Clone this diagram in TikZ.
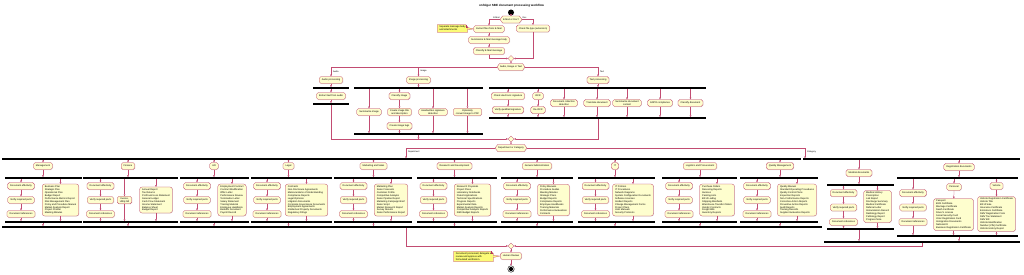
\documentclass[tikz,border=0pt]{standalone}
\usepackage{fontspec}
\setmainfont{Liberation Sans}
\usetikzlibrary{arrows.meta,shapes.geometric,shapes.symbols,shadows,calc}
\definecolor{pred}{HTML}{A80036}
\definecolor{pyel}{HTML}{FEFECE}
\definecolor{nyel}{HTML}{FBFB77}
\newcommand\fs{\fontsize{2.4}{2.95}\selectfont}
\newcommand\fl{\fontsize{2.2}{2.6}\selectfont}
\tikzset{
 act/.style={rectangle, rounded corners=1.8pt, draw=pred!80, fill=pyel, line width=0.25pt, font=\fs, inner xsep=2.6pt, inner ysep=1.2pt, minimum height=7pt, align=center, drop shadow={shadow xshift=0.5pt, shadow yshift=-0.5pt, opacity=0.2}},
 lst/.style={act, align=left, inner ysep=1.6pt, rounded corners=2.5pt},
 bar/.style={rectangle, fill=black, draw=none, inner sep=0pt, minimum height=1.6pt},
 dec/.style={signal, signal to=west and east, signal pointer angle=110, draw=pred!80, fill=pyel, line width=0.25pt, font=\fs, inner xsep=0.5pt, inner ysep=1pt, minimum height=7pt, drop shadow={shadow xshift=0.5pt, shadow yshift=-0.5pt, opacity=0.2}},
 mrg/.style={diamond, draw=pred!80, fill=pyel, line width=0.25pt, minimum size=6pt, inner sep=0pt},
 arr/.style={draw=pred!70, line width=0.25pt, -{Triangle[length=1.7pt,width=1.7pt]}},
 lbl/.style={font=\fl, anchor=west, inner sep=0.3pt},
 notebox/.style={font=\fs, align=left, inner xsep=2pt, inner ysep=1.2pt},
 noteline/.style={draw=pred!80, fill=nyel, line width=0.25pt},
}
\newcommand\notefold[1]{%
 \filldraw[noteline] (#1.north west) -- ([xshift=-2pt]#1.north east) -- ([yshift=-2pt]#1.north east) -- (#1.south east) -- (#1.south west) -- cycle;
 \draw[noteline, fill=none] ([xshift=-2pt]#1.north east) -- ([xshift=-2pt,yshift=-2pt]#1.north east) -- ([yshift=-2pt]#1.north east);
}
% id, title, boxx, barleft, barright, docx, listx, listtext
\newcommand\deptcol[8]{%
 \pgfmathsetmacro\dcC{(#4+#5)/2}%
 \pgfmathsetmacro\dcW{#5-#4}%
 \node[act] (#1t) at (#3,166) {#2};
 \draw[arr] (#1t |- dtop.south) -- (#1t);
 \node[bar, minimum width=\dcW pt] (#1f) at (\dcC,178) {};
 \node[bar, minimum width=\dcW pt] (#1j) at (\dcC,222) {};
 \draw[arr] (#1t) -- (#1t |- #1f.north);
 \node[act] (#1d1) at (#6,186) {Document effectivity};
 \node[act] (#1d2) at (#6,200) {Verify required parts};
 \node[act] (#1d3) at (#6,214) {Document references};
 \node[lst] (#1l) at (#7,200) {#8};
 \draw[arr] (#1d1 |- #1f.south) -- (#1d1);
 \draw[arr] (#1d1) -- (#1d2);
 \draw[arr] (#1d2) -- (#1d3);
 \draw[arr] (#1d3) -- (#1d3 |- #1j.north);
 \draw[arr] (#1l |- #1f.south) -- (#1l);
 \draw[arr] (#1l) -- (#1l |- #1j.north);
 \draw[arr] (#1j.south -| #1t) -- (#1t |- djoin.north);
}
\begin{document}
\begin{tikzpicture}[x=1pt,y=-1pt]
\useasboundingbox[fill=white] (0,0) rectangle (1024,274);

\node[font=\bfseries\fontsize{3}{3.6}\selectfont] (title) at (511.5,5.5) {onfolger SBE document processing workflow};
\node[circle, fill=black, minimum size=6pt, inner sep=0pt] (start) at (511,12.5) {};

\node[dec] (dec1) at (511,19.5) {E-Mail or Doc?};
\draw[arr] (start) -- (dec1);
\node[lbl, anchor=east] at (500,17.3) {E-Mail};
\node[lbl] at (522,17.3) {Doc};

\node[act] (em1) at (489,29) {Extract files from E-Mail};
\node[act] (em2) at (489,40) {Summarize E-Mail message body};
\node[act] (em3) at (489,51) {Classify E-Mail message};
\node[act] (chk) at (533,28.5) {Check file type (extension)};
\draw[arr] (dec1.west) -| (em1);
\draw[arr] (dec1.east) -| (chk);
\draw[arr] (em1) -- (em2);
\draw[arr] (em2) -- (em3);

\node[notebox] (n1) at (452.5,28.5) {Separate message body\\and attachments};
\notefold{n1}
\filldraw[noteline] ([yshift=1pt]n1.east) -- (em1.west) -- ([yshift=-1pt]n1.east);
\node[notebox] at (n1) {Separate message body\\and attachments};

\node[mrg] (m1) at (511,58.5) {};
\draw[arr] (em3) |- (m1);
\draw[arr] (chk) |- (m1);

\node[dec] (dec2) at (511,67) {Audio, Image or Text};
\draw[arr] (m1) -- (dec2);

% audio
\node[act] (aud) at (331,80) {Audio processing};
\draw[arr] (dec2.west) -| (aud);
\node[lbl] at (332.5,71.3) {Audio};
\node[bar, minimum width=36pt] (fa1) at (331,88) {};
\node[act] (audt) at (331,96) {Extract text from audio};
\node[bar, minimum width=36pt] (fa2) at (331,104) {};
\draw[arr] (aud) -- (fa1.north);
\draw[arr] (fa1.south) -- (audt);
\draw[arr] (audt) -- (fa2.north);

% image
\node[act] (img) at (418.5,80) {Image processing};
\draw[arr] (dec2.west) -| (img);
\node[lbl] at (420,71.3) {Image};
\node[bar, minimum width=129pt] (fi1) at (418.5,88) {};
\node[bar, minimum width=129pt] (fi2) at (418.5,134) {};
\draw[arr] (img) -- (img |- fi1.north);
\node[act] (simg) at (369,112) {Summarize image};
\node[act] (cimg) at (399.5,96) {Classify image};
\node[act] (timg) at (399.5,112) {Create image title\\and description};
\node[act] (gimg) at (399.5,126) {Create image tags};
\node[act] (hand) at (433,112) {Handwritten signature\\detection};
\node[act] (conv) at (467.5,112) {Optionally\\convert image to PDF};
\draw[arr] (simg |- fi1.south) -- (simg);
\draw[arr] (simg) -- (simg |- fi2.north);
\draw[arr] (cimg |- fi1.south) -- (cimg);
\draw[arr] (cimg) -- (timg);
\draw[arr] (timg) -- (gimg);
\draw[arr] (gimg) -- (gimg |- fi2.north);
\draw[arr] (hand |- fi1.south) -- (hand);
\draw[arr] (hand) -- (hand |- fi2.north);
\draw[arr] (conv |- fi1.south) -- (conv);
\draw[arr] (conv) -- (conv |- fi2.north);

% text
\node[act] (txt) at (598,80) {Text processing};
\draw[arr] (dec2.east) -| (txt);
\node[lbl] at (599.5,71.3) {Text};
\node[bar, minimum width=217pt] (ft1) at (597.5,88) {};
\node[bar, minimum width=217pt] (ft2) at (597.5,118) {};
\draw[arr] (txt) -- (txt |- ft1.north);
\node[act] (sig1) at (508,96) {Check electronic signature};
\node[act] (sig2) at (508,110) {Verify qualified signature};
\node[act] (ocr) at (538,96) {OCR};
\node[act] (reocr) at (538,110) {Re-OCR};
\node[act] (coll) at (564,103) {Document collection\\detection};
\node[act] (trans) at (597,103) {Translate document};
\node[act] (summ) at (627,103) {Summarize document\\content};
\node[act] (gdpr) at (660,103) {GDPR compliance};
\node[act] (clsd) at (690.5,103) {Classify document};
\draw[arr] (sig1 |- ft1.south) -- (sig1);
\draw[arr] (sig1) -- (sig2);
\draw[arr] (sig2) -- (sig2 |- ft2.north);
\draw[arr] (ocr |- ft1.south) -- (ocr);
\draw[arr] (ocr) -- (reocr);
\draw[arr] (reocr) -- (reocr |- ft2.north);
\foreach \n in {coll,trans,summ,gdpr,clsd}{
 \draw[arr] (\n |- ft1.south) -- (\n);
 \draw[arr] (\n) -- (\n |- ft2.north);
}

\node[mrg] (m2) at (511,139) {};
\draw[arr] (fa2.south) |- (m2);
\draw[arr] (fi2.south -| img) -- (img |- m2);
\draw[arr] (ft2.south -| txt) |- (m2);

\node[dec] (dec3) at (511,148) {Department or Category};
\draw[arr] (m2) -- (dec3);

\node[bar, minimum width=799pt] (dtop) at (401.5,159) {};
\node[bar, minimum width=217pt] (ctop) at (911.5,159) {};
\coordinate (dtopin) at (406,158.2);
\coordinate (ctopin) at (805,158.2);
\draw[arr] (dec3.west) -| (dtopin);
\draw[arr] (dec3.east) -| (ctopin);
\node[lbl] at (407.5,152.3) {Department};
\node[lbl] at (806.5,152.3) {Category};

\node[bar, minimum width=820pt] (djoin) at (412,227) {};
\node[bar, minimum width=196pt] (cjoin) at (922,242) {};

\deptcol{mg}{Management}{43}{5}{82}{21}{60.5}{Business Plan\\Strategic Plan\\Operational Plan\\Budget Report\\Performance Metrics Report\\Risk Management Plan\\Policy and Procedure Manual\\Market Analysis Report\\Project Charter\\Meeting Minutes}
\deptcol{fi}{Finance}{128}{83}{178}{100.5}{156}{Annual Report\\Tax Returns\\Profit and Loss Statement\\General Ledger\\Cash Flow Statement\\Income Statement\\Balance Sheet\\Budget Report}
\node[act] (inv) at (124.5,200) {Invoice,\\Utility bill};
\draw[arr] (inv |- fif.south) -- (inv);
\draw[arr] (inv) -- (inv |- fij.north);
\deptcol{hr}{HR}{214}{180}{249}{197}{232}{Employment Contract\\Contract Modification\\Offer Letter\\Performance Review\\Termination Letter\\Salary Statement\\Training Material\\Employee Handbook\\Benefits Document\\Payroll Record}
\deptcol{lg}{Legal}{288.5}{251}{332}{267}{306.5}{Contracts\\Non-Disclosure Agreements\\Memorandums of Understanding\\Compliance Reports\\Legal Opinions\\Litigation Documents\\Corporate Governance Documents\\Employment Agreements\\Intellectual Property Documents\\Regulatory Filings}
\deptcol{ms}{Marketing and Sales}{373.5}{334}{412}{353.5}{391}{Marketing Plan\\Sales Forecasts\\Customer Profile\\Competitive Analysis\\Sales Pipeline Report\\Marketing Campaign Brief\\Sales Script\\Market Research Report\\Survey Results\\Sales Performance Report}
\deptcol{rd}{Research and Development}{454.5}{417}{497}{433.5}{472.5}{Research Proposals\\Project Plans\\Laboratory Notebooks\\Patent Applications\\Technical Specifications\\Progress Reports\\Experimental Data\\Market Analysis Reports\\Competitive Analysis Reports\\R\&D Budget Reports}
\deptcol{ga}{General Administration}{537}{501}{573}{517}{553.5}{Policy Manuals\\Procedure Guides\\Meeting Minutes\\Strategic Plans\\Budget Reports\\Compliance Reports\\Employee Handbooks\\Training Materials\\Performance Evaluations\\Contracts}
\deptcol{it}{IT}{615}{578}{655}{595.5}{633}{IT Policies\\IT Procedures\\Network Diagrams\\System Configuration Documents\\Software Licenses\\Incident Reports\\Change Management Forms\\Project Plans\\User Manuals\\Security Protocols}
\deptcol{lp}{Logistics and Procurement}{700}{662}{737}{679}{717}{Purchase Orders\\Receiving Reports\\Invoices\\Packing Lists\\Bill of Lading\\Shipping Manifests\\Warehouse Transfer Orders\\Vendor Contracts\\Freight Bills\\Inventory Reports}
\deptcol{qm}{Quality Management}{780}{740}{818}{757}{797}{Quality Manual\\Standard Operating Procedures\\Quality Control Plans\\Inspection Reports\\Non-Conformance Reports\\Corrective Action Reports\\Preventive Action Reports\\Audit Reports\\Training Records\\Supplier Evaluation Reports}

% medical
\node[act] (med) at (859,173) {Medical documents};
\draw[arr] (med |- ctop.south) -- (med);
\node[bar, minimum width=67pt] (medf) at (860.5,185) {};
\node[bar, minimum width=67pt] (medj) at (860.5,229) {};
\draw[arr] (med) -- (med |- medf.north);
\node[act] (md1) at (843.5,193) {Document effectivity};
\node[act] (md2) at (843.5,207.5) {Verify required parts};
\node[act] (md3) at (843.5,222) {Document references};
\node[lst] (mdl) at (877.5,206.5) {Medical History\\Prescription\\Lab Report\\Discharge Summary\\Medical Certificate\\Referral Letter\\Immunization Record\\Radiology Report\\Pathology Report\\Progress Note};
\draw[arr] (md1 |- medf.south) -- (md1);
\draw[arr] (md1) -- (md2);
\draw[arr] (md2) -- (md3);
\draw[arr] (md3) -- (md3 |- medj.north);
\draw[arr] (mdl |- medf.south) -- (mdl);
\draw[arr] (mdl) -- (mdl |- medj.north);
\draw[arr] (medj.south -| med) -- (med |- cjoin.north);

% registration
\node[act] (reg) at (959,167) {Registration documents};
\draw[arr] (reg |- ctop.south) -- (reg);
\node[bar, minimum width=121pt] (regf) at (957.5,178) {};
\node[bar, minimum width=121pt] (regj) at (957.5,236) {};
\draw[arr] (reg) -- (reg |- regf.north);
\node[act] (rd1) at (913,193) {Document effectivity};
\node[act] (rd2) at (913,207.5) {Verify required parts};
\node[act] (rd3) at (913,222) {Document references};
\draw[arr] (rd1 |- regf.south) -- (rd1);
\draw[arr] (rd1) -- (rd2);
\draw[arr] (rd2) -- (rd3);
\draw[arr] (rd3) -- (rd3 |- regj.north);
\node[act] (per) at (954,187) {Personal};
\node[lst] (perl) at (953.5,214.5) {Passport\\Birth Certificate\\Marriage Certificate\\Death Certificate\\Driver's License\\Social Security Card\\Voter Registration Card\\Immigration Documents\\National ID\\Business Registration Certificate};
\node[act] (veh) at (996.5,186) {Vehicle};
\node[lst] (vehl) at (996.5,214) {Vehicle Registration Certificate\\Vehicle Title\\Bill of Sale\\Insurance Certificate\\Emissions Certificate\\DMV Registration Form\\DMV Tax Statement\\DMV Bill\\Vehicle Identification\\Number (VIN) Certificate\\Vehicle History Report};
\draw[arr] (per |- regf.south) -- (per);
\draw[arr] (per) -- (perl);
\draw[arr] (perl) -- (perl |- regj.north);
\draw[arr] (veh |- regf.south) -- (veh);
\draw[arr] (veh) -- (vehl);
\draw[arr] (vehl) -- (vehl |- regj.north);
\draw[arr] (regj.south -| reg) -- (reg |- cjoin.north);

% end
\node[mrg] (m3) at (511,246) {};
\draw[arr] (djoin.south -| dtopin) |- (m3);
\draw[arr] (cjoin.south) |- (m3);
\node[act] (hum) at (511,256) {Human Review};
\draw[arr] (m3) -- (hum);
\node[notebox] (n2) at (473.5,256.5) {Document processed, delegate a\\review and approve with\\formulated verification.};
\notefold{n2}
\filldraw[noteline] ([yshift=1pt]n2.east) -- (hum.west) -- ([yshift=-1pt]n2.east);
\node[notebox] at (n2) {Document processed, delegate a\\review and approve with\\formulated verification.};
\node[circle, draw=black, line width=0.4pt, fill=white, minimum size=6.5pt, inner sep=0pt] (stop) at (511,269) {};
\fill[black] (stop.center) circle (2.1);
\draw[arr] (hum) -- (stop);
\end{tikzpicture}
\end{document}
